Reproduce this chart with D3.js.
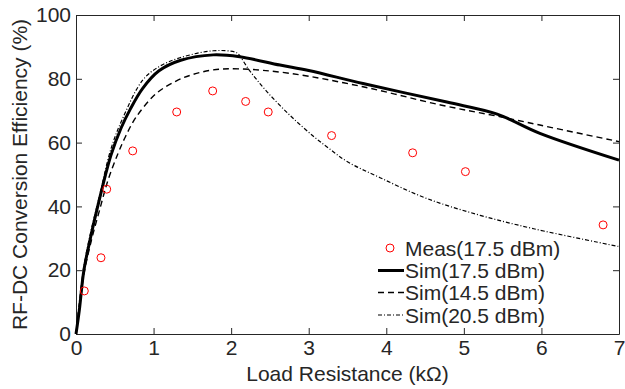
<!DOCTYPE html>
<html>
<head>
<meta charset="utf-8">
<script src="https://cdn.jsdelivr.net/npm/d3@7"></script>
<style>
  body { margin: 0; background: #fff; }
  text { font-family: "Liberation Sans", Arial, Helvetica, sans-serif; fill: #262626; }
</style>
</head>
<body>
<svg id="chart" width="625" height="389"></svg>
<script>
let margin = { top: 15, right: 6, bottom: 55, left: 76 };
let width = 625 - margin.left - margin.right;
let height = 389 - margin.top - margin.bottom;

// tick labels
let xTicks = [0, 1, 2, 3, 4, 5, 6, 7];
let yTicks = [0, 20, 40, 60, 80, 100];

// measured points (kOhm, %)
let measX = [0.107, 0.322, 0.396, 0.731, 1.298, 1.762, 2.187, 2.478, 3.295, 4.34, 5.02, 6.795];
let measY = [13.5, 23.9, 45.4, 57.4, 69.6, 76.2, 72.9, 69.6, 62.2, 56.8, 50.9, 34.2];

// Sim 17.5 dBm
let sim175X = [0, 0.043, 0.1, 0.19, 0.27, 0.34, 0.45, 0.58, 0.7, 0.86, 1.07, 1.35, 1.77, 2.11, 2.63, 3.0, 3.7, 4.78, 5.42, 5.98, 7];
let sim175Y = [0, 7.5, 19.7, 30.5, 39, 46, 56, 64.5, 70.5, 77, 82.5, 85.8, 87.5, 86.9, 84.3, 82.6, 78.5, 72.7, 69, 62.9, 54.5];

// Sim 14.5 dBm
let sim145X = [0, 0.1, 0.2, 0.3, 0.41, 0.54, 0.64, 0.77, 1.03, 1.29, 1.5, 1.77, 2.11, 2.76, 3.7, 4.7, 5.47, 5.98, 7];
let sim145Y = [0, 18.5, 29.5, 38.5, 48, 56.5, 62, 67.8, 75.3, 79.3, 81.3, 82.8, 83.1, 81.7, 77.5, 71.8, 68.1, 65.5, 60.3];

// Sim 20.5 dBm
let sim205X = [0, 0.1, 0.2, 0.3, 0.45, 0.6, 0.86, 1.07, 1.34, 1.77, 2.05, 2.09, 2.24, 2.46, 2.76, 3.06, 3.27, 3.5, 3.92, 4.52, 5.21, 5.9, 7];
let sim205Y = [0, 21, 33, 43, 58, 67.5, 79.6, 83.8, 86.6, 88.8, 88.4, 87.8, 82.5, 76, 68.5, 62, 58, 54, 49, 42.5, 37.2, 33, 27.4];

let legendLabels = ["Meas(17.5 dBm)", "Sim(17.5 dBm)", "Sim(14.5 dBm)", "Sim(20.5 dBm)"];

function zip(xs, ys) {
    return xs.map((v, i) => ({ x: v, y: ys[i] }));
}

let svg = d3.select("#chart");
let g = svg.append("g").attr("transform", "translate(" + margin.left + "," + margin.top + ")");

let x = d3.scaleLinear().domain([0, 7]).range([0, width]);
let y = d3.scaleLinear().domain([0, 100]).range([height, 0]);

let axisColor = "#262626";
let fontSize = "21px";

// box + inward ticks on all four sides
function styleAxis(sel) {
    sel.select(".domain").attr("stroke", axisColor).attr("stroke-width", 1);
    sel.selectAll(".tick line").attr("stroke", axisColor);
    sel.selectAll(".tick text").style("font-size", fontSize).attr("fill", axisColor);
}

g.append("g").attr("transform", "translate(0," + height + ")")
    .call(d3.axisBottom(x).tickValues(xTicks).tickFormat(d3.format("d")).tickSizeInner(-6).tickSizeOuter(0).tickPadding(6))
    .call(styleAxis);
g.append("g")
    .call(d3.axisLeft(y).tickValues(yTicks).tickFormat(d3.format("d")).tickSizeInner(-6).tickSizeOuter(0).tickPadding(5))
    .call(styleAxis);
g.append("g")
    .call(d3.axisTop(x).tickValues(xTicks).tickFormat("").tickSizeInner(-6).tickSizeOuter(0))
    .call(styleAxis);
g.append("g").attr("transform", "translate(" + width + ",0)")
    .call(d3.axisRight(y).tickValues(yTicks).tickFormat("").tickSizeInner(-6).tickSizeOuter(0))
    .call(styleAxis);

let line = d3.line().x(d => x(d.x)).y(d => y(d.y)).curve(d3.curveCatmullRom.alpha(0.5));

let sim175 = { data: zip(sim175X, sim175Y), width: 3, dash: null };
let sim145 = { data: zip(sim145X, sim145Y), width: 1.4, dash: "6,4" };
let sim205 = { data: zip(sim205X, sim205Y), width: 1.2, dash: "4,2,1,2" };

g.selectAll(".sim").data([sim145, sim205, sim175]).enter()
    .append("path")
    .attr("class", "sim")
    .attr("d", d => line(d.data))
    .attr("fill", "none")
    .attr("stroke", "#000")
    .attr("stroke-width", d => d.width)
    .attr("stroke-dasharray", d => d.dash);

g.selectAll(".meas").data(zip(measX, measY)).enter()
    .append("circle")
    .attr("class", "meas")
    .attr("cx", d => x(d.x))
    .attr("cy", d => y(d.y))
    .attr("r", 4)
    .attr("fill", "none")
    .attr("stroke", "#ff0000")
    .attr("stroke-width", 1);

// axis labels
svg.append("text")
    .attr("x", margin.left + width / 2)
    .attr("y", 381)
    .attr("text-anchor", "middle")
    .style("font-size", fontSize)
    .text("Load Resistance (kΩ)");

svg.append("text")
    .attr("transform", "translate(27," + (margin.top + height / 2) + ")rotate(-90)")
    .attr("text-anchor", "middle")
    .style("font-size", fontSize)
    .text("RF-DC Conversion Efficiency (%)");

// legend
let legend = svg.append("g");
let legendY = [248, 270.5, 292.5, 315];
let lx0 = 378, lx1 = 404, tx = 405;

legend.append("circle")
    .attr("cx", 390).attr("cy", legendY[0]).attr("r", 4)
    .attr("fill", "none").attr("stroke", "#ff0000").attr("stroke-width", 1);
[sim175, sim145, sim205].forEach(function (s, i) {
    legend.append("line")
        .attr("x1", lx0).attr("x2", lx1)
        .attr("y1", legendY[i + 1]).attr("y2", legendY[i + 1])
        .attr("stroke", "#000")
        .attr("stroke-width", s.width)
        .attr("stroke-dasharray", s.dash);
});
legend.selectAll(".ltext").data(legendLabels).enter()
    .append("text")
    .attr("x", tx)
    .attr("y", (d, i) => legendY[i])
    .attr("dy", "0.36em")
    .style("font-size", fontSize)
    .attr("fill", "#000")
    .text(d => d);
</script>
</body>
</html>
